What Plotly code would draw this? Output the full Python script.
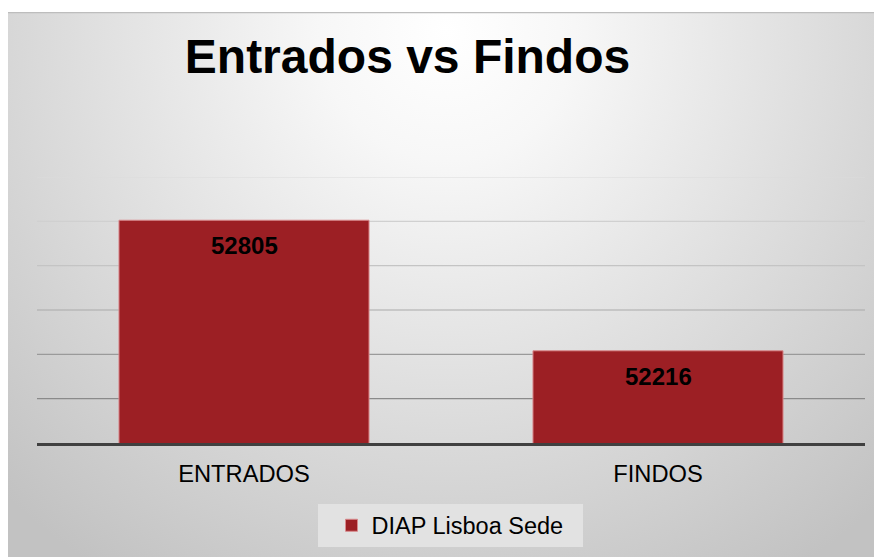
import base64
import plotly.graph_objects as go

# ---- data ----
categories = ["ENTRADOS", "FINDOS"]
values = [52805, 52216]
series_name = "DIAP Lisboa Sede"
title_text = "Entrados vs Findos"
y_range = [51800, 53000]
grid_vals = [53000, 52800, 52600, 52400, 52200, 52000]

# ---- styles / layout ----
grid_colors = ["#dcdcdc", "#d0d0d0", "#c4c4c4", "#aaaaaa", "#9a9a9a", "#8a8a8a"]
bar_color = "#9C1F24"
OFF = 8  # page body margin of the html page
W, H = 882, 557
L, R = 37 - OFF, 25
T = 177 - OFF
B = H - (443 - OFF)
pw, ph = W - L - R, H - T - B
plot_bottom = H - B


def px(xs):  # screen x -> paper x
    return (xs - OFF - L) / pw


def py(ys):  # screen y -> paper y
    return (plot_bottom - (ys - OFF)) / ph


# chart background (radial gradient like the original)
box_w, box_h = 875, 545
svg = (
    f'<svg xmlns="http://www.w3.org/2000/svg" width="{box_w}" height="{box_h}" '
    f'viewBox="0 0 {box_w} {box_h}" preserveAspectRatio="none">'
    '<defs><radialGradient id="g" gradientUnits="userSpaceOnUse" cx="440" cy="20" r="640">'
    '<stop offset="0" stop-color="#ffffff"/><stop offset="0.2" stop-color="#f7f7f7"/>'
    '<stop offset="1" stop-color="#c2c2c2"/></radialGradient></defs>'
    f'<rect x="0" y="0" width="{box_w}" height="{box_h}" fill="url(#g)"/>'
    f'<line x1="0" y1="0.5" x2="{box_w}" y2="0.5" stroke="#bdbdbd" stroke-width="1.5"/>'
    '</svg>'
)
src = "data:image/svg+xml;base64," + base64.b64encode(svg.encode()).decode()

fig = go.Figure()
fig.add_trace(go.Bar(
    x=categories, y=values, name=series_name,
    marker=dict(color=bar_color, line=dict(color="#d9898c", width=1)),
    width=0.604, showlegend=True, hoverinfo="x+y",
))

for v, c in zip(grid_vals, grid_colors):
    fig.add_shape(type="line", xref="paper", yref="y", x0=0, x1=1, y0=v, y1=v,
                  line=dict(color=c, width=1.2), layer="below")

# legend background box
fig.add_shape(type="rect", xref="paper", yref="paper",
              x0=px(318), x1=px(583), y0=py(547), y1=py(504),
              fillcolor="#e2e2e2", line=dict(width=0), layer="below")

for cat, v in zip(categories, values):
    fig.add_annotation(x=cat, y=v, text=f"<b>{v}</b>", showarrow=False,
                       yshift=-25.5, yanchor="middle",
                       font=dict(family="Liberation Sans, Arial", size=24, color="#000000"))

fig.add_layout_image(dict(
    source=src, xref="paper", yref="paper",
    x=px(7), y=py(12),
    sizex=box_w / pw, sizey=box_h / ph,
    xanchor="left", yanchor="top", sizing="stretch", layer="below",
))

fig.update_layout(
    width=W, height=H,
    margin=dict(l=L, r=R, t=T, b=B),
    paper_bgcolor="#ffffff",
    plot_bgcolor="rgba(0,0,0,0)",
    font=dict(family="Liberation Sans, Arial", color="#000000"),
    title=dict(text=f"<b>{title_text}</b>", x=(407.5 - OFF) / W, xanchor="center",
               xref="container", y=1 - (56.5 - OFF) / H, yanchor="middle", yref="container",
               font=dict(size=48, color="#000000", family="Liberation Sans, Arial")),
    bargap=0.396,
    xaxis=dict(showline=True, linecolor="#404040", linewidth=3, showgrid=False,
               ticks="", ticklabelstandoff=8,
               tickfont=dict(size=23.7, color="#000000"), zeroline=False),
    yaxis=dict(range=y_range, showticklabels=False, showgrid=False, zeroline=False,
               showline=False, ticks=""),
    legend=dict(orientation="h", x=px(331.5), xanchor="left",
                y=py(525.5), yanchor="middle",
                bgcolor="rgba(0,0,0,0)", font=dict(size=23.5, color="#000000"),
                borderwidth=0),
)

fig.write_html("out.html")
